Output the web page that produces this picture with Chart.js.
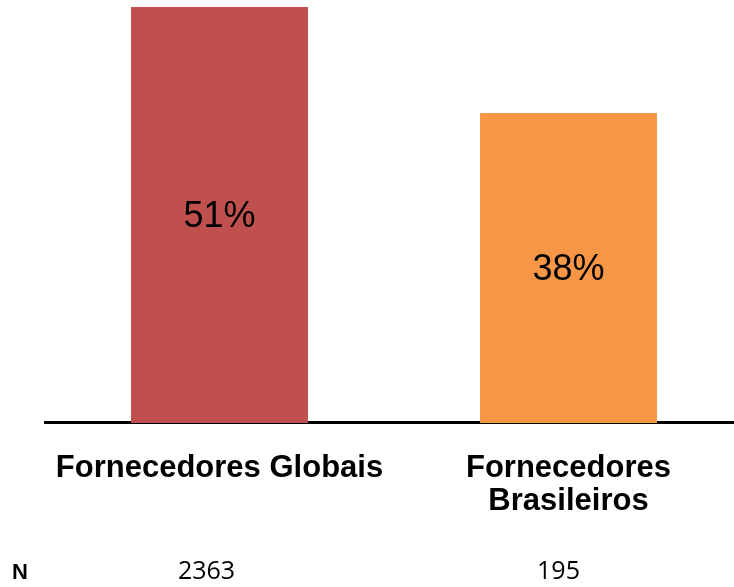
<!DOCTYPE html>
<html>
<head>
<meta charset="utf-8">
<script src="https://cdn.jsdelivr.net/npm/chart.js@4.4.0/dist/chart.umd.min.js"></script>
<style>
    html, body { margin: 0; padding: 0; background: #fff; overflow: hidden; }
    #wrap { position: relative; width: 743px; height: 587px; }
</style>
</head>
<body>
<div id="wrap"><canvas id="barChartCanvas"></canvas></div>
<script>
const categories = ['Fornecedores Globais', ['Fornecedores', 'Brasileiros']];
const shares = [51, 38];
const sampleSizes = [2363, 195];
const barColors = ['#C0504D', '#F79646'];

// draws the % inside each bar and the "N" row under the axis
const labelPlugin = {
    id: 'labelPlugin',
    afterDatasetsDraw(chart) {
        const ctx = chart.ctx;
        const meta = chart.getDatasetMeta(0);
        const xScale = chart.scales.x;
        ctx.save();
        ctx.fillStyle = '#000';
        ctx.textAlign = 'center';
        ctx.textBaseline = 'middle';
        ctx.font = '36px "Liberation Sans", Arial, sans-serif';
        meta.data.forEach((bar, i) => {
            const mid = (bar.y + bar.base) / 2;
            ctx.fillText(shares[i] + '%', bar.x, mid + 2);
        });

        ctx.textBaseline = 'alphabetic';
        ctx.font = 'bold 22px "Liberation Sans", Arial, sans-serif';
        ctx.textAlign = 'left';
        ctx.fillText('N', 12, 579);
        ctx.textAlign = 'center';
        ctx.font = '25px "Open Sans", sans-serif';
        sampleSizes.forEach((n, i) => {
            ctx.fillText(String(n), xScale.getPixelForValue(i) - 13 + i * 3, 579);
        });
        ctx.restore();
    }
};

const ctx = document.getElementById('barChartCanvas').getContext('2d');
new Chart(ctx, {
    type: 'bar',
    data: {
        labels: categories,
        datasets: [{
            data: shares,
            backgroundColor: barColors,
            borderWidth: 0,
            barPercentage: 0.507,
            categoryPercentage: 1
        }]
    },
    options: {
        responsive: true,
        maintainAspectRatio: false,
        animation: false,
        layout: {
            padding: { left: 45, right: 0, top: 7, bottom: 48 }
        },
        plugins: {
            legend: { display: false },
            tooltip: { enabled: false }
        },
        scales: {
            x: {
                grid: { display: false },
                border: { display: true, color: '#000', width: 3 },
                ticks: {
                    color: '#000',
                    padding: 21,
                    font: { family: '"Liberation Sans", Arial, sans-serif', size: 31, weight: 'bold', lineHeight: 1.065 }
                }
            },
            y: {
                display: false,
                min: 0,
                max: 51
            }
        }
    },
    plugins: [labelPlugin]
});
</script>
</body>
</html>
